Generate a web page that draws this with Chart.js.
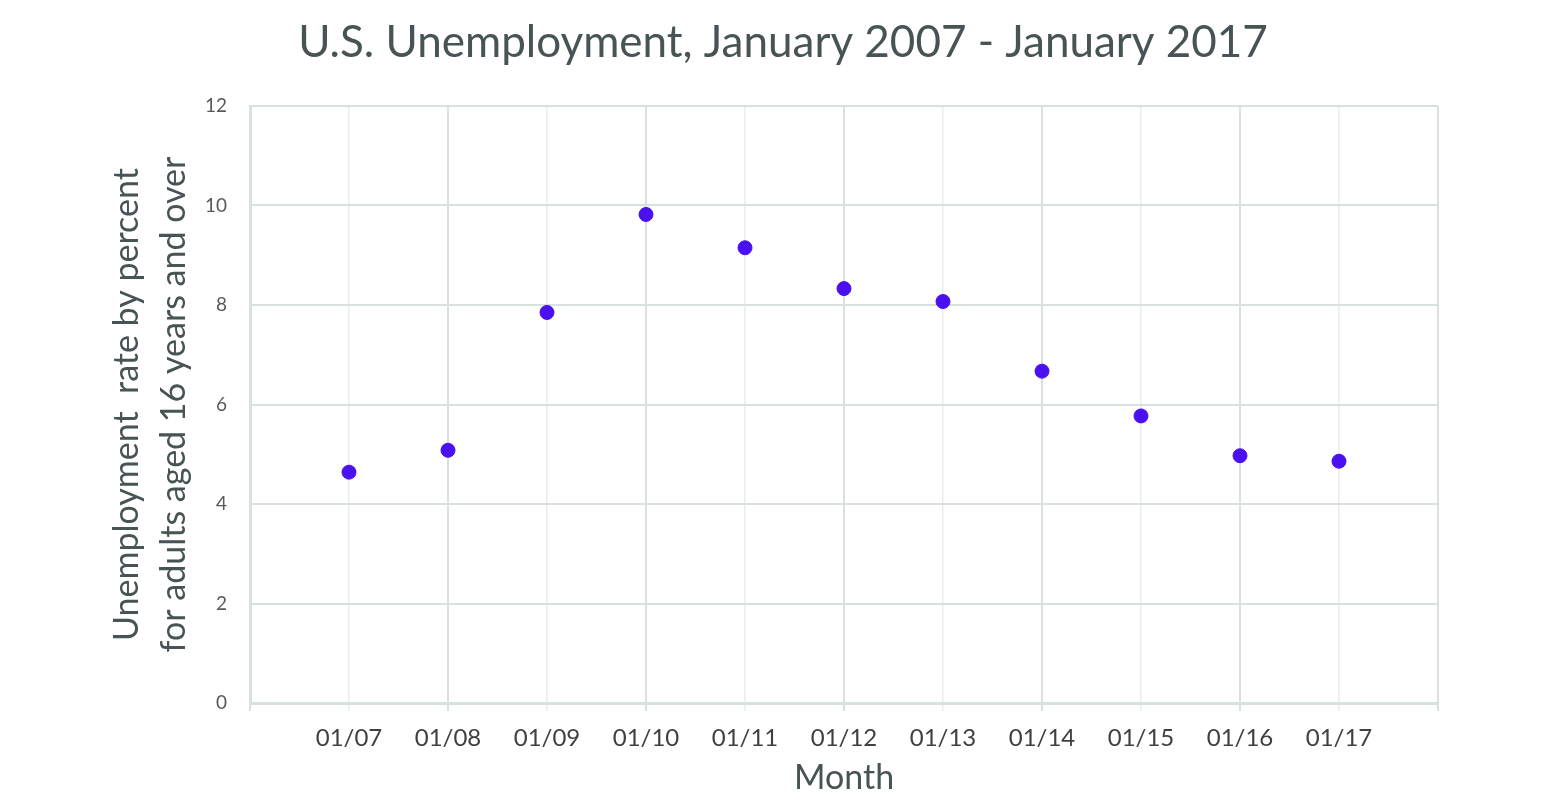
<!doctype html>
<html>
	<head>
		<meta charset="utf-8" />
		<title>U.S. Unemployment, January 2007 - January 2017</title>
		<script src="https://cdn.jsdelivr.net/npm/chart.js@4"></script>
		<style>
			html,
			body {
				margin: 0;
				padding: 0;
				background: #fff;
			}

			#wrap {
				width: 1566px;
				height: 804px;
			}
		</style>
	</head>

	<body>
		<div id="wrap"><canvas id="chartJSContainer"></canvas></div>

		<script>
			// data
			const monthLabels = ["01/07", "01/08", "01/09", "01/10", "01/11", "01/12", "01/13", "01/14", "01/15", "01/16", "01/17"];
			const monthPositions = [1, 2, 3, 4, 5, 6, 7, 8, 9, 10, 11];
			const unemploymentRate = [4.64, 5.08, 7.85, 9.82, 9.15, 8.33, 8.07, 6.67, 5.77, 4.97, 4.86];
			const yTicks = [0, 2, 4, 6, 8, 10, 12];

			const fontFamily = "Lato, 'Open Sans', sans-serif",
				majorGrid = "#d9e0e0",
				minorGrid = "#e9eded";

			const points = monthPositions.map((x, i) => ({ x: x, y: unemploymentRate[i] }));

			const ctx = document.getElementById("chartJSContainer").getContext("2d");
			window.testedChart = new Chart(ctx, {
				type: "scatter",
				data: {
					datasets: [
						{
							label: "Unemployment",
							data: points,
							backgroundColor: "#4a10f0",
							borderColor: "#4a10f0",
							pointRadius: 7,
							pointHoverRadius: 7,
						},
					],
				},
				options: {
					responsive: true,
					maintainAspectRatio: false,
					animation: false,
					layout: { padding: 0 },
					plugins: {
						legend: { display: false },
						tooltip: { enabled: false },
						title: {
							display: true,
							text: "U.S. Unemployment, January 2007 - January 2017",
							color: "#475355",
							font: { family: fontFamily, size: 44, weight: "normal", lineHeight: 1.2 },
							padding: { top: 16, bottom: 37.2 },
						},
					},
					scales: {
						x: {
							type: "linear",
							min: 0,
							max: 12,
							afterFit: (scale) => {
								scale.height = 101;
							},
							afterBuildTicks: (scale) => {
								const ticks = [];
								for (let v = 0; v <= 12; v++) ticks.push({ value: v });
								scale.ticks = ticks;
							},
							border: { color: majorGrid, width: 3 },
							grid: {
								color: (c) => (c.tick && c.tick.value % 2 === 0 ? majorGrid : minorGrid),
								lineWidth: (c) => (c.tick && c.tick.value % 2 === 0 ? 2 : 1.5),
								tickColor: (c) => (c.tick && c.tick.value % 2 === 0 ? majorGrid : minorGrid),
								tickLength: 8,
							},
							ticks: {
								autoSkip: false,
								maxRotation: 0,
								padding: 13,
								color: "#404040",
								font: { family: fontFamily, size: 24 },
								callback: (v) => {
									const i = monthPositions.indexOf(v);
									return i >= 0 ? monthLabels[i] : "";
								},
							},
							title: {
								display: true,
								text: "Month",
								color: "#475355",
								font: { family: fontFamily, size: 34, lineHeight: 1.2 },
								padding: { top: 0, bottom: 6 },
							},
						},
						y: {
							min: 0,
							max: 12,
							afterFit: (scale) => {
								scale.width = 250;
							},
							afterBuildTicks: (scale) => {
								scale.ticks = yTicks.map((v) => ({ value: v }));
							},
							border: { color: majorGrid, width: 3 },
							grid: {
								color: majorGrid,
								lineWidth: 2,
								drawTicks: false,
							},
							ticks: {
								padding: 23,
								color: "#595959",
								font: { family: fontFamily, size: 19 },
							},
							title: {
								display: true,
								text: ["Unemployment  rate by percent", "for adults aged 16 years and over"],
								color: "#475355",
								font: { family: fontFamily, size: 34, lineHeight: 1.38 },
								padding: { top: 104, bottom: 0 },
							},
						},
						// empty right-hand axis only reserves the margin right of the plot
						yRight: {
							position: "right",
							display: true,
							afterFit: (scale) => {
								scale.width = 128;
							},
							grid: { display: false, drawTicks: false },
							border: { display: false },
							ticks: { display: false },
						},
					},
				},
			});
		</script>
	</body>
</html>
